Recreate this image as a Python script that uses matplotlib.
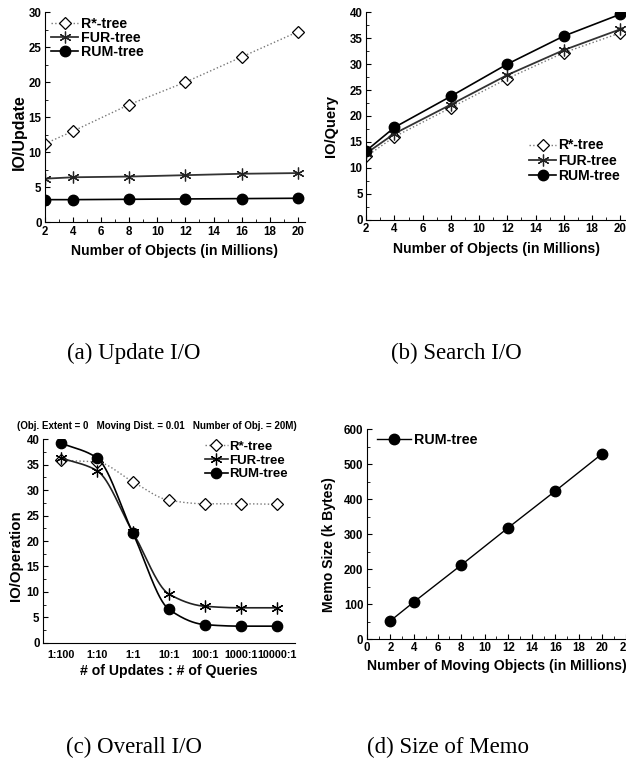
import numpy as np
import matplotlib
matplotlib.use("Agg")
import matplotlib.pyplot as plt
from matplotlib.ticker import MultipleLocator

plt.rcParams['font.family'] = ['Liberation Sans', 'DejaVu Sans']
plt.rcParams['font.weight'] = 'bold'

# (a) update I/O
objs = [2, 4, 8, 12, 16, 20]
upd_rstar = [11.2, 13.0, 16.8, 20.0, 23.6, 27.2]
upd_fur = [6.2, 6.4, 6.5, 6.7, 6.9, 7.0]
upd_rum = [3.2, 3.2, 3.25, 3.3, 3.35, 3.4]

# (b) search I/O
qry_rstar = [12.2, 16.0, 21.6, 27.2, 32.2, 36.0]
qry_fur = [12.8, 16.6, 22.2, 27.9, 32.7, 36.7]
qry_rum = [13.3, 17.8, 23.8, 30.0, 35.4, 39.6]

# (c) overall I/O
ratios = ['1:100', '1:10', '1:1', '10:1', '100:1', '1000:1', '10000:1']
ovr_rstar = [35.8, 35.5, 31.6, 28.0, 27.3, 27.3, 27.2]
ovr_fur = [36.3, 33.8, 21.7, 9.6, 7.2, 6.9, 6.9]
ovr_rum = [39.2, 36.3, 21.5, 6.6, 3.6, 3.3, 3.3]

# (d) memo size
memo_rum = [52, 106, 211, 318, 423, 530]

tick_fs = 8.3
lab_fs = 10.1
asterisk = (6, 2, 0)


def smooth(xs, ys, n=200):
    # monotone cubic (Fritsch-Carlson) just for drawing the curve
    xs = np.asarray(xs, float)
    ys = np.asarray(ys, float)
    h = np.diff(xs)
    d = np.diff(ys) / h
    m = np.zeros_like(ys)
    m[0], m[-1] = d[0], d[-1]
    for i in range(1, len(xs) - 1):
        if d[i - 1] * d[i] > 0:
            w1 = 2 * h[i] + h[i - 1]
            w2 = h[i] + 2 * h[i - 1]
            m[i] = (w1 + w2) / (w1 / d[i - 1] + w2 / d[i])
    xx = np.linspace(xs[0], xs[-1], n)
    k = np.clip(np.searchsorted(xs, xx) - 1, 0, len(xs) - 2)
    t = (xx - xs[k]) / h[k]
    h00 = 2 * t**3 - 3 * t**2 + 1
    h10 = t**3 - 2 * t**2 + t
    h01 = -2 * t**3 + 3 * t**2
    h11 = t**3 - t**2
    yy = h00 * ys[k] + h10 * h[k] * m[k] + h01 * ys[k + 1] + h11 * h[k] * m[k + 1]
    return xx, yy


def style(ax):
    for s in ['top', 'right']:
        ax.spines[s].set_visible(False)
    ax.tick_params(direction='in', labelsize=tick_fs, length=3.5, width=0.8, pad=2.5)
    ax.tick_params(which='minor', direction='in', length=2, width=0.6)
    for lab in ax.get_xticklabels() + ax.get_yticklabels():
        lab.set_fontweight('bold')


def series(ax, x, r, f, m):
    ax.plot(x, r, ':', color='#777777', lw=1, marker='D', ms=6.5, mfc='white',
            mec='black', mew=0.9, label='R*-tree')
    ax.plot(x, f, '-', color='#333333', lw=1.3, marker=asterisk, ms=8.5, mec='#222222',
            mew=0.9, label='FUR-tree')
    ax.plot(x, m, '-', color='black', lw=1.2, marker='o', ms=7.5, label='RUM-tree')


fig = plt.figure(figsize=(6.26, 7.63), dpi=100)

# (a)
ax1 = fig.add_axes([0.0719, 0.709, 0.415, 0.275])
series(ax1, objs, upd_rstar, upd_fur, upd_rum)
ax1.set_xlim(2, 20.5)
ax1.set_ylim(0, 30)
ax1.xaxis.set_major_locator(MultipleLocator(2))
ax1.xaxis.set_minor_locator(MultipleLocator(1))
ax1.yaxis.set_major_locator(MultipleLocator(5))
ax1.yaxis.set_minor_locator(MultipleLocator(2.5))
ax1.set_xlabel('Number of Objects (in Millions)', fontsize=lab_fs, fontweight='bold', labelpad=5)
ax1.set_ylabel('IO/Update', fontsize=11.5, fontweight='bold')
ax1.yaxis.set_label_coords(-0.069, 0.43)
ax1.legend(loc='upper left', bbox_to_anchor=(-0.025, 1.04), frameon=False, fontsize=10.2,
           handlelength=1.9, labelspacing=0.0, handletextpad=0.2)
style(ax1)

# (b)
ax2 = fig.add_axes([0.585, 0.712, 0.417, 0.272])
series(ax2, objs, qry_rstar, qry_fur, qry_rum)
ax2.set_xlim(2, 20.5)
ax2.set_ylim(0, 40)
ax2.xaxis.set_major_locator(MultipleLocator(2))
ax2.xaxis.set_minor_locator(MultipleLocator(1))
ax2.yaxis.set_major_locator(MultipleLocator(5))
ax2.yaxis.set_minor_locator(MultipleLocator(2.5))
ax2.set_xlabel('Number of Objects (in Millions)', fontsize=lab_fs, fontweight='bold', labelpad=5)
ax2.set_ylabel('IO/Query', fontsize=10.5, fontweight='bold')
ax2.yaxis.set_label_coords(-0.107, 0.45)
ax2.legend(loc='center right', bbox_to_anchor=(1.0, 0.284), frameon=False, fontsize=10,
           handlelength=1.9, labelspacing=0.1, handletextpad=0.2, borderaxespad=0.1)
style(ax2)

# (c)
ax3 = fig.add_axes([0.0687, 0.1573, 0.4023, 0.2673])
xc = np.arange(len(ratios))
for vals, ls, col, mk, ms, mfc, lbl in [
        (ovr_rstar, ':', '#777777', 'D', 6.5, 'white', 'R*-tree'),
        (ovr_fur, '-', '#222222', asterisk, 8.5, '#222222', 'FUR-tree'),
        (ovr_rum, '-', 'black', 'o', 7.5, 'black', 'RUM-tree')]:
    sx, sy = smooth(xc, vals)
    ax3.plot(sx, sy, ls, color=col, lw=1.2 if ls == '-' else 1)
    ax3.plot(xc, vals, ls='none', marker=mk, ms=ms, mfc=mfc, mec='black', mew=0.9)
    ax3.plot([], [], ls, color=col, lw=1.2 if ls == '-' else 1, marker=mk, ms=ms,
             mfc=mfc, mec='black', mew=0.9, label=lbl)
ax3.set_xlim(-0.5, 6.5)
ax3.set_ylim(0, 40)
ax3.set_xticks(xc)
ax3.set_xticklabels(ratios)
ax3.yaxis.set_major_locator(MultipleLocator(5))
ax3.yaxis.set_minor_locator(MultipleLocator(2.5))
ax3.set_xlabel('# of Updates : # of Queries', fontsize=lab_fs, fontweight='bold', labelpad=3)
ax3.set_ylabel('IO/Operation', fontsize=10.8, fontweight='bold')
ax3.yaxis.set_label_coords(-0.079, 0.43)
fig.text(157 / 626, 1 - 426 / 763,
         '(Obj. Extent = 0   Moving Dist. = 0.01   Number of Obj. = 20M)',
         fontsize=7.05, fontweight='bold', ha='center', va='center')
ax3.legend(loc='upper right', bbox_to_anchor=(1.0, 1.025), frameon=False, fontsize=9.5,
           handlelength=1.8, labelspacing=0.12, handletextpad=0.1, borderaxespad=0.1)
style(ax3)
ax3.tick_params(axis='x', labelsize=7.8, length=0, pad=5)

# (d)
ax4 = fig.add_axes([0.586, 0.1625, 0.414, 0.2752])
ax4.plot(objs, memo_rum, '-', color='black', lw=1, marker='o', ms=7.5, label='RUM-tree')
ax4.set_xlim(0, 22)
ax4.set_ylim(0, 600)
ax4.xaxis.set_major_locator(MultipleLocator(2))
ax4.xaxis.set_minor_locator(MultipleLocator(1))
ax4.yaxis.set_major_locator(MultipleLocator(100))
ax4.yaxis.set_minor_locator(MultipleLocator(50))
ax4.set_xlabel('Number of Moving Objects (in Millions)', fontsize=lab_fs, fontweight='bold',
               labelpad=3)
ax4.set_ylabel('Memo Size (k Bytes)', fontsize=lab_fs, fontweight='bold')
ax4.yaxis.set_label_coords(-0.12, 0.45)
ax4.legend(loc='upper left', bbox_to_anchor=(0.0, 1.03), frameon=False, fontsize=10.3,
           handlelength=2.4, borderaxespad=0.3, handletextpad=0.2)
style(ax4)

# captions
cap = dict(fontsize=16.5, family='Liberation Serif', fontweight='normal', ha='center', va='center')
fig.text(134 / 626, 1 - 353 / 763, '(a) Update I/O', **cap)
fig.text(456 / 626, 1 - 353 / 763, '(b) Search I/O', **cap)
fig.text(134 / 626, 1 - 747 / 763, '(c) Overall I/O', **cap)
fig.text(448 / 626, 1 - 747 / 763, '(d) Size of Memo', **cap)

fig.savefig('out.png', dpi=100)
